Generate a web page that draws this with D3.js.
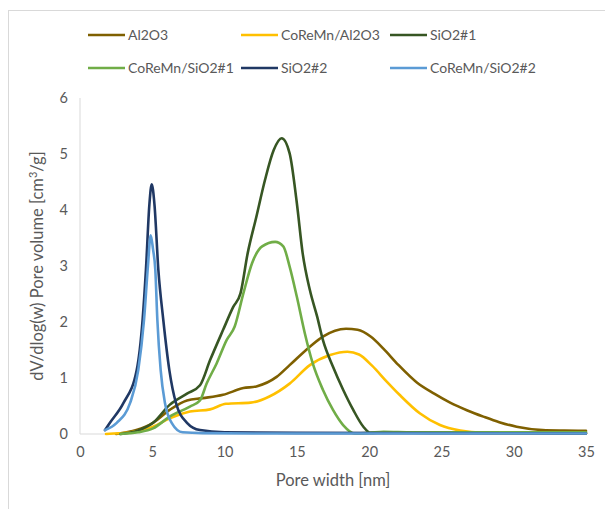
<!DOCTYPE html>
<html>
<head>
<meta charset="utf-8">
<script src="https://cdn.jsdelivr.net/npm/d3@7"></script>
<style>
  body { margin: 0; background: #fff; }
  text { font-family: Lato, "Open Sans", sans-serif; fill: #595959; }
</style>
</head>
<body>
<div id="chart"></div>
<script>
// pore size distributions
const seriesNames = ["Al2O3", "CoReMn/Al2O3", "SiO2#1", "CoReMn/SiO2#1", "SiO2#2", "CoReMn/SiO2#2"];
const seriesColors = ["#7f6000", "#ffc000", "#375623", "#70ad47", "#203864", "#5b9bd5"];

const al2o3X = [2.5, 3.9, 5.05, 6.2, 7.4, 8.5, 9.9, 11.3, 12.2, 13.6, 14.5, 15.9, 16.8, 18.4, 19.2, 20.1, 21.0, 22.0, 23.3, 24.5, 25.6, 26.8, 27.9, 29.0, 30.2, 32.0, 33.5, 35.0];
const al2o3Y = [0.0, 0.07, 0.2, 0.43, 0.6, 0.64, 0.7, 0.82, 0.85, 1.02, 1.23, 1.56, 1.74, 1.88, 1.86, 1.74, 1.52, 1.24, 0.92, 0.72, 0.56, 0.42, 0.31, 0.21, 0.13, 0.07, 0.06, 0.055];

const coAl2o3X = [1.8, 3.5, 5.05, 6.2, 7.6, 9.0, 10.1, 11.8, 13.1, 14.5, 15.9, 17.3, 18.5, 19.3, 20.2, 21.2, 22.1, 23.5, 24.9, 26.3, 27.9, 30.0, 35.0];
const coAl2o3Y = [0.0, 0.03, 0.13, 0.28, 0.4, 0.44, 0.54, 0.56, 0.67, 0.9, 1.23, 1.41, 1.47, 1.42, 1.22, 0.94, 0.7, 0.37, 0.16, 0.06, 0.02, 0.015, 0.01];

const sio2aX = [2.8, 4.0, 5.05, 6.2, 7.4, 8.3, 9.0, 9.9, 10.6, 11.1, 11.6, 12.2, 12.8, 13.4, 13.95, 14.5, 15.0, 15.4, 15.9, 16.4, 16.8, 17.5, 18.2, 18.9, 19.6, 20.1, 21.0, 25.0, 35.0];
const sio2aY = [0.0, 0.06, 0.2, 0.52, 0.72, 0.87, 1.32, 1.86, 2.27, 2.51, 3.23, 3.88, 4.54, 5.07, 5.28, 5.01, 4.12, 3.23, 2.57, 2.1, 1.68, 1.2, 0.79, 0.43, 0.13, 0.02, 0.03, 0.02, 0.02];

const coSio2aX = [2.8, 4.0, 5.05, 6.2, 7.6, 8.3, 8.76, 9.45, 10.15, 10.7, 11.3, 11.9, 12.6, 13.5, 14.06, 14.5, 15.0, 15.55, 16.1, 16.8, 17.5, 18.2, 19.0, 20.0, 21.0, 23.0, 35.0];
const coSio2aY = [0.0, 0.03, 0.1, 0.31, 0.49, 0.6, 0.9, 1.26, 1.68, 1.92, 2.51, 3.05, 3.35, 3.43, 3.35, 2.99, 2.45, 1.8, 1.26, 0.79, 0.43, 0.16, 0.01, 0.02, 0.04, 0.03, 0.03];

const sio2bX = [1.73, 2.07, 3.0, 3.92, 4.33, 4.56, 4.8, 4.96, 5.15, 5.42, 5.76, 6.18, 6.64, 7.4, 8.3, 10.0, 15.0, 35.0];
const sio2bY = [0.07, 0.2, 0.55, 1.14, 2.04, 2.93, 4.1, 4.46, 4.1, 2.93, 2.04, 1.14, 0.55, 0.2, 0.07, 0.03, 0.02, 0.01];

const coSio2bX = [1.73, 2.54, 3.46, 4.03, 4.43, 4.7, 4.89, 5.05, 5.21, 5.35, 5.58, 5.88, 6.34, 7.1, 8.5, 12.0, 35.0];
const coSio2bY = [0.07, 0.2, 0.55, 1.14, 2.04, 3.0, 3.55, 3.3, 2.93, 2.04, 1.14, 0.55, 0.2, 0.03, 0.015, 0.01, 0.01];

const xTicks = [0, 5, 10, 15, 20, 25, 30, 35];
const yTicks = [0, 1, 2, 3, 4, 5, 6];

const seriesX = [al2o3X, coAl2o3X, sio2aX, coSio2aX, sio2bX, coSio2bX];
const seriesY = [al2o3Y, coAl2o3Y, sio2aY, coSio2aY, sio2bY, coSio2bY];

const W = 605, H = 509;
const plot = { left: 80, right: 586, top: 98, bottom: 434 };

const svg = d3.select("#chart").append("svg")
    .attr("width", W)
    .attr("height", H);

// chart frame (runs off the right and bottom of the picture)
svg.append("rect")
    .attr("x", 8.5).attr("y", 10.5)
    .attr("width", W + 20).attr("height", H + 20)
    .attr("fill", "none")
    .attr("stroke", "#d9d9d9");

var x = d3.scaleLinear().domain([0, 35]).range([plot.left, plot.right]);
var y = d3.scaleLinear().domain([0, 6]).range([plot.bottom, plot.top]);

var xAxis = svg.append("g")
    .attr("transform", `translate(0,${plot.bottom})`)
    .call(d3.axisBottom(x).tickValues(xTicks).tickFormat(d3.format("d")).tickSize(0).tickPadding(13));
var yAxis = svg.append("g")
    .attr("transform", `translate(${plot.left},0)`)
    .call(d3.axisLeft(y).tickValues(yTicks).tickFormat(d3.format("d")).tickSize(0).tickPadding(12));

[xAxis, yAxis].forEach(a => {
  a.select(".domain").attr("stroke", "#d9d9d9").attr("stroke-width", 1);
  a.selectAll("text").style("font-size", "14.5px").attr("fill", "#595959");
});
// plain axis lines, Excel style
yAxis.select(".domain").attr("d", `M0,${plot.bottom}V${plot.top}`);
xAxis.select(".domain").attr("d", `M${plot.left},0H${plot.right}`);

var line = d3.line()
    .x(d => x(d[0]))
    .y(d => y(d[1]))
    .curve(d3.curveMonotoneX);

seriesNames.forEach((name, i) => {
  const pts = seriesX[i].map((v, j) => [v, seriesY[i][j]]);
  svg.append("path")
      .datum(pts)
      .attr("fill", "none")
      .attr("stroke", seriesColors[i])
      .attr("stroke-width", 2.6)
      .attr("stroke-linejoin", "round")
      .attr("stroke-linecap", "round")
      .attr("d", line);
});

// axis titles
svg.append("text")
    .attr("x", (plot.left + plot.right) / 2)
    .attr("y", 486)
    .attr("text-anchor", "middle")
    .style("font-size", "16.5px")
    .text("Pore width [nm]");

var yTitle = svg.append("text")
    .attr("transform", `translate(43,${(plot.top + plot.bottom) / 2}) rotate(-90)`)
    .attr("text-anchor", "middle")
    .style("font-size", "16.5px");
yTitle.append("tspan").text("dV/dlog(w) Pore volume [cm");
yTitle.append("tspan").attr("dy", -6).style("font-size", "11px").text("3");
yTitle.append("tspan").attr("dy", 6).text("/g]");

// legend, 3 per row
var legendCols = [88, 241, 390];
var legendRows = [35, 68];
var legend = svg.selectAll(".legend")
    .data(seriesNames)
    .enter().append("g")
    .attr("class", "legend")
    .attr("transform", (d, i) => `translate(${legendCols[i % 3]},${legendRows[Math.floor(i / 3)]})`);

legend.append("line")
    .attr("x1", 0).attr("x2", 37)
    .attr("stroke", (d, i) => seriesColors[i])
    .attr("stroke-width", 2.6);

legend.append("text")
    .attr("x", 40)
    .attr("dy", ".35em")
    .style("font-size", "14px")
    .text(d => d);
</script>
</body>
</html>
